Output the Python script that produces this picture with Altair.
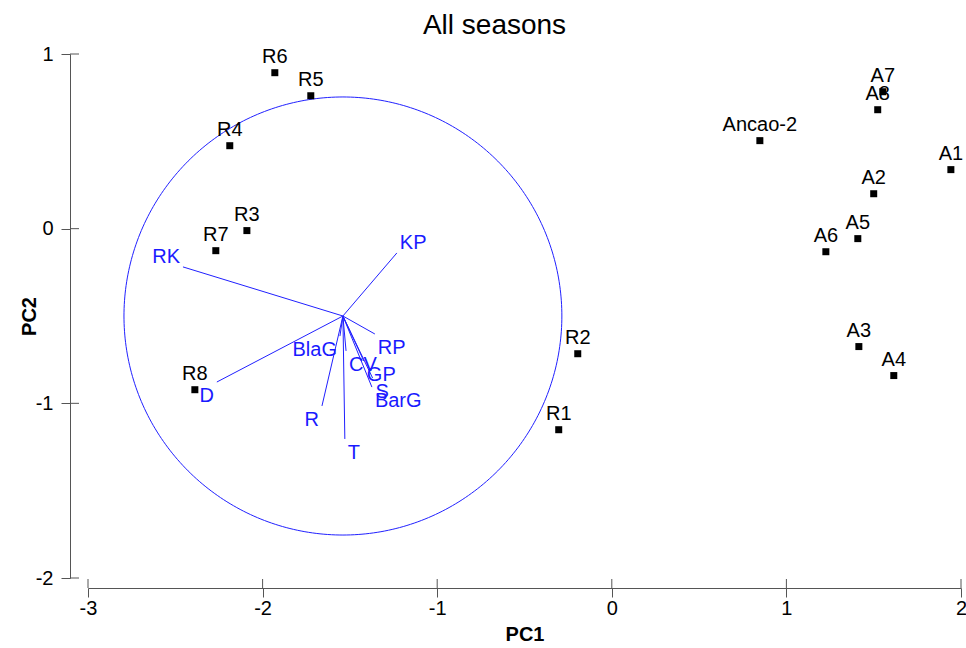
import altair as alt
import numpy as np
import pandas as pd

# ---- data ----
site_names = ["R6", "R5", "R4", "R3", "R7", "R8", "R2", "R1", "Ancao-2",
              "A7", "A8", "A1", "A2", "A5", "A6", "A3", "A4"]
site_pc1 = [-1.93, -1.724, -2.188, -2.09, -2.268, -2.388, -0.195, -0.304, 0.848,
            1.552, 1.523, 1.942, 1.50, 1.409, 1.226, 1.415, 1.615]
site_pc2 = [0.893, 0.761, 0.475, -0.011, -0.126, -0.922, -0.716, -1.151, 0.504,
            0.784, 0.681, 0.338, 0.200, -0.057, -0.132, -0.675, -0.841]

var_names = ["RK", "KP", "RP", "D", "BlaG", "CV", "GP", "S", "BarG", "R", "T"]
var_pc1 = [-0.916, 0.309, 0.183, -0.722, -0.017, 0.018, 0.120, 0.170, 0.166, -0.120, 0.011]
var_pc2 = [0.281, 0.361, -0.103, -0.378, -0.115, -0.200, -0.258, -0.355, -0.407, -0.515, -0.704]

origin = (-1.54, -0.50)
circle_radius = 1.254

x_ticks = [-3, -2, -1, 0, 1, 2]
y_ticks = [-2, -1, 0, 1]

FONT = "Liberation Sans"
BLUE_LINE = "#2020ff"
BLUE_TEXT = "#1a1aff"

W, H = 873, 524

sites = pd.DataFrame({"name": site_names, "PC1": site_pc1, "PC2": site_pc2})

vec = pd.DataFrame({"name": var_names, "lx": var_pc1, "ly": var_pc2})
vec["x0"] = origin[0]
vec["y0"] = origin[1]
vec["x1"] = vec["x0"] + vec["lx"]
vec["y1"] = vec["y0"] + vec["ly"]
vec["right"] = vec["lx"] >= 0
vec["down"] = vec["ly"] < 0

ang = np.linspace(0, 2 * np.pi, 361)
circ = pd.DataFrame({
    "i": np.arange(len(ang)),
    "cx": origin[0] + circle_radius * np.cos(ang),
    "cy": origin[1] + circle_radius * np.sin(ang),
})

xscale = alt.Scale(domain=[-3, 2], nice=False, zero=False)
yscale = alt.Scale(domain=[-2, 1], nice=False, zero=False)

xaxis = alt.Axis(values=x_ticks, labelExpr="'' + datum.value", offset=10, tickSize=9,
                 grid=False, domainColor="#555", tickColor="#555", labelColor="black",
                 labelFont=FONT, labelFontSize=20, labelPadding=1, labelFlush=False,
                 title="PC1", titleFont=FONT, titleFontSize=20, titleFontWeight="bold",
                 titleColor="black", titlePadding=6)
yaxis = alt.Axis(values=y_ticks, labelExpr="'' + datum.value", offset=18, tickSize=9,
                 grid=False, domainColor="#555", tickColor="#555", labelColor="black",
                 labelFont=FONT, labelFontSize=20, labelPadding=8, labelFlush=False,
                 title="PC2", titleFont=FONT, titleFontSize=20, titleFontWeight="bold",
                 titleColor="black", titlePadding=-4)

base_x = alt.X("cx:Q", scale=xscale, axis=xaxis)
base_y = alt.Y("cy:Q", scale=yscale, axis=yaxis)

circle = alt.Chart(circ).mark_line(color=BLUE_LINE, strokeWidth=1).encode(
    x=base_x, y=base_y, order="i:Q")

vectors = alt.Chart(vec).mark_rule(color=BLUE_LINE, strokeWidth=1).encode(
    x=alt.X("x0:Q", scale=xscale), y=alt.Y("y0:Q", scale=yscale),
    x2="x1:Q", y2="y1:Q")

def vlabels(right, down):
    return alt.Chart(vec).transform_filter(
        (alt.datum.right == right) & (alt.datum.down == down)
    ).mark_text(
        font=FONT, fontSize=20, color=BLUE_TEXT,
        align="left" if right else "right",
        baseline="top" if down else "bottom",
        dx=3 if right else -3, dy=4 if down else 0,
    ).encode(x=alt.X("x1:Q", scale=xscale), y=alt.Y("y1:Q", scale=yscale), text="name:N")

points = alt.Chart(sites).mark_square(size=49, color="black", opacity=1).encode(
    x=alt.X("PC1:Q", scale=xscale), y=alt.Y("PC2:Q", scale=yscale))

plabels = alt.Chart(sites).mark_text(
    font=FONT, fontSize=20, color="black", baseline="alphabetic", dy=-10
).encode(x=alt.X("PC1:Q", scale=xscale), y=alt.Y("PC2:Q", scale=yscale), text="name:N")

tick_df_x = pd.DataFrame({"v": x_ticks})
tick_df_y = pd.DataFrame({"v": y_ticks})
inner_x = alt.Chart(tick_df_x).mark_rule(color="#555", strokeWidth=1).encode(
    x=alt.X("v:Q", scale=xscale), y=alt.value(H + 10), y2=alt.value(H + 1))
inner_y = alt.Chart(tick_df_y).mark_rule(color="#555", strokeWidth=1).encode(
    y=alt.Y("v:Q", scale=yscale), x=alt.value(-18), x2=alt.value(-9))

chart = alt.layer(
    circle, vectors,
    vlabels(True, True), vlabels(True, False), vlabels(False, True), vlabels(False, False),
    points, plabels, inner_x, inner_y,
).properties(
    width=W, height=H,
    title=alt.TitleParams("All seasons", font=FONT, fontSize=28, fontWeight="normal",
                          color="black", anchor="middle", dx=-30, offset=4),
    autosize=alt.AutoSizeParams(type="none"),
    padding={"left": 88, "top": 54, "right": 5, "bottom": 70},
).configure(background="white", view={"stroke": "transparent", "strokeWidth": 0})

chart.save("out.html", embed_options={"renderer": "svg", "actions": False})
